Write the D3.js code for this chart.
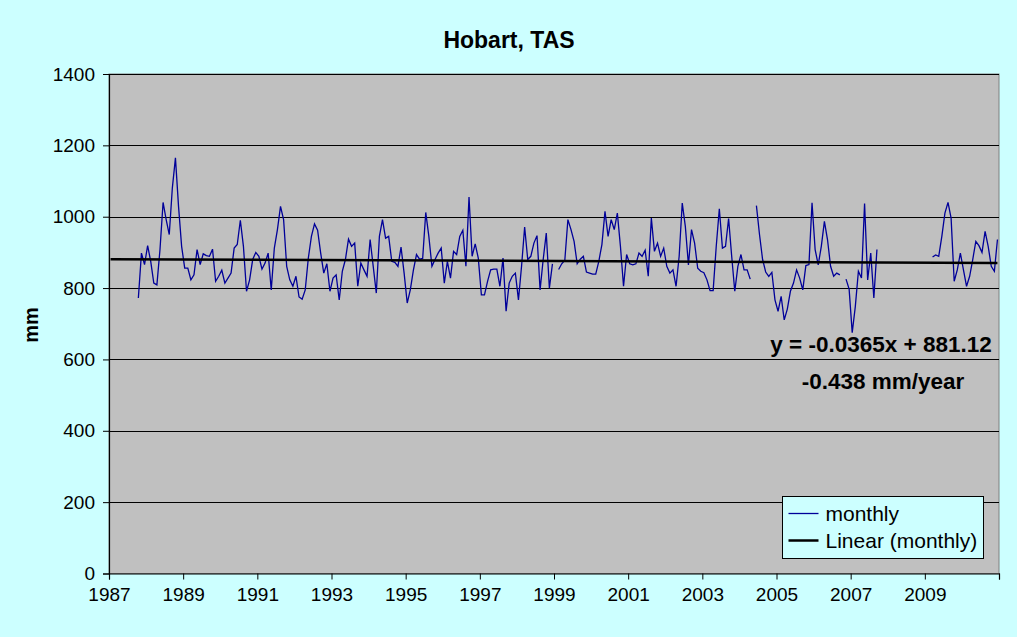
<!DOCTYPE html>
<html>
<head>
<meta charset="utf-8">
<script src="https://cdn.jsdelivr.net/npm/d3@7"></script>
<style>
  body { margin: 0; background: #ccffff; }
  svg { display: block; font-family: "Liberation Sans", Arial, sans-serif; }
</style>
</head>
<body>
<div id="chart"></div>
<script>
// monthly values, first one is Oct 1987, null = no reading
var firstYear = 1987, firstMonth = 10;
var monthly = [
  772, 898, 866,
  919, 875, 814, 809, 908, 1040, 992, 950, 1081, 1165, 1029, 917,
  856, 856, 823, 837, 908, 866, 896, 891, 889, 909, 819, 833,
  850, 814, 828, 842, 912, 922, 990, 917, 791, 823, 880, 900,
  889, 853, 870, 898, 795, 912, 964, 1029, 992, 861, 823, 805,
  833, 775, 769, 795, 884, 945, 980, 962, 898, 842, 868, 791,
  828, 837, 767, 847, 880, 937, 917, 926, 805, 870, 851, 833,
  936, 861, 786, 945, 992, 940, 945, 875, 872, 861, 915, 842,
  758, 795, 850, 894, 881, 883, 1012, 945, 861, 880, 898, 912,
  814, 875, 828, 903, 894, 945, 962, 861, 1055, 889, 924, 884,
  781, 781, 819, 851, 853, 853, 805, 884, 735, 814, 833, 842,
  767, 861, 971, 880, 889, 926, 947, 795, 880, 954, 800, 868,
  null, 852, 868, 878, 992, 964, 931, 868, 881, 889, 845, 842,
  839, 839, 875, 922, 1015, 945, 992, 964, 1010, 917, 805, 894,
  868, 865, 868, 898, 889, 906, 833, 996, 903, 926, 889, 912,
  861, 842, 851, 805, 889, 1038, 973, 865, 964, 926, 856, 847,
  843, 823, 793, 793, 917, 1022, 912, 917, 995, 889, 791, 861,
  894, 851, 851, 825, null, 1031, 950, 880, 845, 833, 844, 767,
  735, 777, 711, 741, 791, 814, 851, 828, 795, 863, 866, 1039,
  908, 865, 917, 987, 936, 861, 833, 842, 837, null, 825, 797,
  675, 748, 847, 828, 1037, 823, 898, 772, 908, null, null, null,
  null, null, null, null, null, null, null, null, null, null, null, null,
  null, null, 887, 893, 889, 945, 1010, 1040, 996, 819, 851, 898,
  851, 805, 833, 880, 931, 919, 900, 959, 917, 861, 847, 936
];

// trend line as printed on the chart, x = month number from Jan 1987
var trendSlope = -0.0365, trendIntercept = 881.12;
var trendMonths = 288;

var yTicks = [0, 200, 400, 600, 800, 1000, 1200, 1400];
var xTicks = [1987, 1989, 1991, 1993, 1995, 1997, 1999, 2001, 2003, 2005, 2007, 2009, 2011];
var xLabels = [1987, 1989, 1991, 1993, 1995, 1997, 1999, 2001, 2003, 2005, 2007, 2009];

var W = 1017, H = 637;
var plot = {left: 109, right: 999, top: 74, bottom: 573.5};

var svg = d3.select("#chart").append("svg")
  .attr("width", W).attr("height", H);

svg.append("rect").attr("width", W).attr("height", H).attr("fill", "#ccffff");

var x = d3.scaleLinear().domain([1987, 2011]).range([plot.left, plot.right]);
var y = d3.scaleLinear().domain([0, 1400]).range([plot.bottom, plot.top]);

// plot area
svg.append("rect")
  .attr("x", plot.left).attr("y", plot.top)
  .attr("width", plot.right - plot.left).attr("height", plot.bottom - plot.top)
  .attr("fill", "#c0c0c0").attr("stroke", "#808080");

// gridlines
svg.append("g").selectAll("line")
  .data(yTicks.filter(function(d) { return d > 0; }))
  .enter().append("line")
  .attr("x1", plot.left).attr("x2", plot.right)
  .attr("y1", function(d) { return Math.round(y(d)) + 0.5; })
  .attr("y2", function(d) { return Math.round(y(d)) + 0.5; })
  .attr("stroke", "#000").attr("stroke-width", 1);

// y axis
var yAxis = svg.append("g")
  .attr("transform", "translate(" + plot.left + ",0)")
  .call(d3.axisLeft(y).tickValues(yTicks).tickSize(6).tickPadding(8)
    .tickFormat(d3.format("d")));
// x axis
var xAxis = svg.append("g")
  .attr("transform", "translate(0," + plot.bottom + ")")
  .call(d3.axisBottom(x).tickValues(xTicks).tickSize(6).tickPadding(8)
    .tickFormat(function(d) { return xLabels.indexOf(d) >= 0 ? d : ""; }));

[yAxis, xAxis].forEach(function(a) {
  a.selectAll("path").attr("stroke", "#000").attr("stroke-width", 1.2);
  a.selectAll("line").attr("stroke", "#000");
  a.selectAll("text").attr("fill", "#000")
    .style("font-size", "19px").style("font-family", "'Liberation Sans', Arial, sans-serif");
});

// monthly series
var pts = monthly.map(function(v, k) {
  var m = firstMonth - 1 + k;
  return {t: firstYear + (m + 0.5) / 12, v: v};
});

var line = d3.line()
  .defined(function(d) { return d.v !== null; })
  .x(function(d) { return x(d.t); })
  .y(function(d) { return y(d.v); });

svg.append("path").datum(pts)
  .attr("d", line)
  .attr("fill", "none")
  .attr("stroke", "#000099")
  .attr("stroke-width", 1.3);

// linear trend
var trend = d3.range(trendMonths).map(function(i) {
  return {t: 1987 + (i + 0.5) / 12, v: trendSlope * (i + 1) + trendIntercept};
});
trend = [trend[0], trend[trend.length - 1]];
svg.append("path").datum(trend)
  .attr("d", line)
  .attr("fill", "none")
  .attr("stroke", "#000")
  .attr("stroke-width", 2.5);

// title and axis title
svg.append("text")
  .attr("x", 509).attr("y", 48)
  .attr("text-anchor", "middle")
  .style("font-size", "23px").style("font-weight", "bold")
  .text("Hobart, TAS");

svg.append("text")
  .attr("transform", "translate(38,325) rotate(-90)")
  .attr("text-anchor", "middle")
  .style("font-size", "20px").style("font-weight", "bold")
  .text("mm");

// trendline label
svg.append("text")
  .attr("x", 881).attr("y", 352)
  .attr("text-anchor", "middle")
  .style("font-size", "22.5px").style("font-weight", "bold")
  .text("y = -0.0365x + 881.12");
svg.append("text")
  .attr("x", 883).attr("y", 389)
  .attr("text-anchor", "middle")
  .style("font-size", "22.5px").style("font-weight", "bold")
  .text("-0.438 mm/year");

// legend
var lg = svg.append("g").attr("transform", "translate(782.5,496.5)");
lg.append("rect").attr("width", 201).attr("height", 62)
  .attr("fill", "#ccffff").attr("stroke", "#000");
var items = [
  {name: "monthly", color: "#000099", w: 1.3},
  {name: "Linear (monthly)", color: "#000", w: 2.5}
];
items.forEach(function(it, k) {
  var cy = 17 + k * 27;
  lg.append("line").attr("x1", 6).attr("x2", 36)
    .attr("y1", cy).attr("y2", cy)
    .attr("stroke", it.color).attr("stroke-width", it.w);
  lg.append("text").attr("x", 43).attr("y", cy + 7)
    .style("font-size", "21px")
    .text(it.name);
});
</script>
</body>
</html>
